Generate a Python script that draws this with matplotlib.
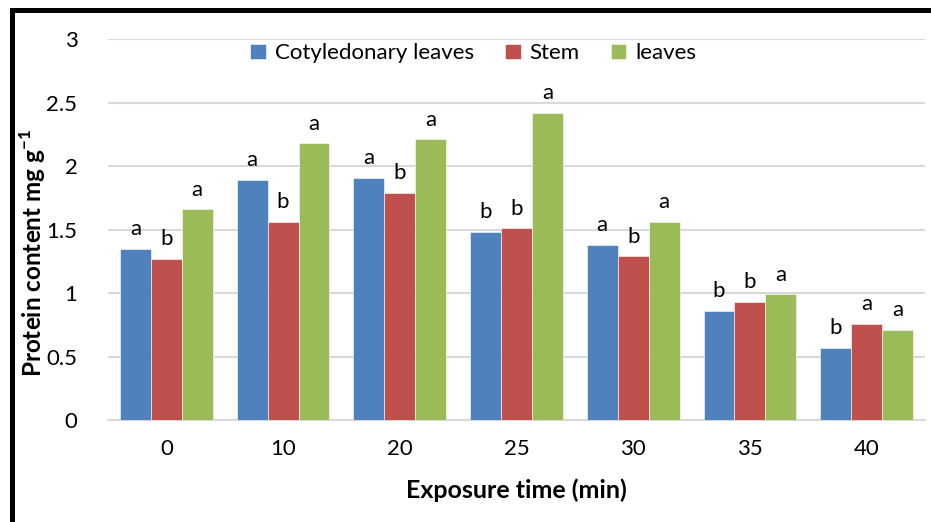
import numpy as np
import matplotlib
matplotlib.use("Agg")
import matplotlib.pyplot as plt
from matplotlib.patches import Rectangle

plt.rcParams['font.family'] = ['Lato', 'DejaVu Sans']
plt.rcParams['mathtext.fontset'] = 'custom'
plt.rcParams['mathtext.rm'] = 'Lato'
plt.rcParams['mathtext.bf'] = 'Lato:bold'

# data
times = ["0", "10", "20", "25", "30", "35", "40"]
cotyledonary = [1.35, 1.89, 1.91, 1.48, 1.38, 0.86, 0.57]
stem = [1.27, 1.56, 1.79, 1.51, 1.29, 0.93, 0.76]
leaves = [1.66, 2.18, 2.21, 2.42, 1.56, 0.99, 0.71]

letters_cot = ["a", "a", "a", "b", "a", "b", "b"]
letters_stem = ["b", "b", "b", "b", "b", "b", "a"]
letters_leaves = ["a", "a", "a", "a", "a", "a", "a"]

series = [
    ("Cotyledonary leaves", cotyledonary, letters_cot, "#4F81BD"),
    ("Stem", stem, letters_stem, "#C0504D"),
    ("leaves", leaves, letters_leaves, "#9BBB59"),
]

fig = plt.figure(figsize=(9.31, 5.22), dpi=100)
ax = fig.add_axes([0.116, 0.1954, 0.8776, 0.7296])

x = np.arange(len(times))
w = 0.265
for i, (name, vals, labs, col) in enumerate(series):
    pos = x + (i - 1) * w
    bars = ax.bar(pos, vals, w, color=col, label=name, edgecolor="white", linewidth=0.4, zorder=3)
    for b, lab in zip(bars, labs):
        ax.annotate(lab, (b.get_x() + b.get_width() / 2, b.get_height()),
                    xytext=(0, 7), textcoords="offset points",
                    ha="center", va="bottom", fontsize=16)

ax.set_xlim(-0.5, len(times) - 0.5)
ax.set_ylim(0, 3)
ax.set_yticks([0, 0.5, 1, 1.5, 2, 2.5, 3])
ax.set_yticklabels(["0", "0.5", "1", "1.5", "2", "2.5", "3"])
ax.set_xticks(x)
ax.set_xticklabels(times)
ax.tick_params(length=0, labelsize=16, pad=14)
ax.tick_params(axis="y", pad=22)
ax.yaxis.grid(True, color="#d9d9d9", linewidth=1.5, zorder=0)
for s in ["top", "right", "left"]:
    ax.spines[s].set_visible(False)
ax.spines["bottom"].set_color("#d9d9d9")
ax.spines["bottom"].set_linewidth(1.5)

ax.set_xlabel("Exposure time (min)", fontsize=18, fontweight="bold", labelpad=14)
ax.set_ylabel("Protein content mg g$^{\\mathbf{-1}}$", fontsize=17.5, fontweight="bold", va="center")
ax.yaxis.set_label_coords(-0.092, 0.44)

ax.legend(loc="center", bbox_to_anchor=(0.447, 0.963), ncol=3, frameon=False,
          fontsize=16, handlelength=0.7, handleheight=0.7, handletextpad=0.4,
          columnspacing=1.4)

# thick black frame (left and top visible)
fig.add_artist(Rectangle((0.0125, -0.2), 1.2, 1.18, transform=fig.transFigure,
                         fill=False, edgecolor="black", linewidth=3.6))

fig.savefig("out.png", dpi=100)
